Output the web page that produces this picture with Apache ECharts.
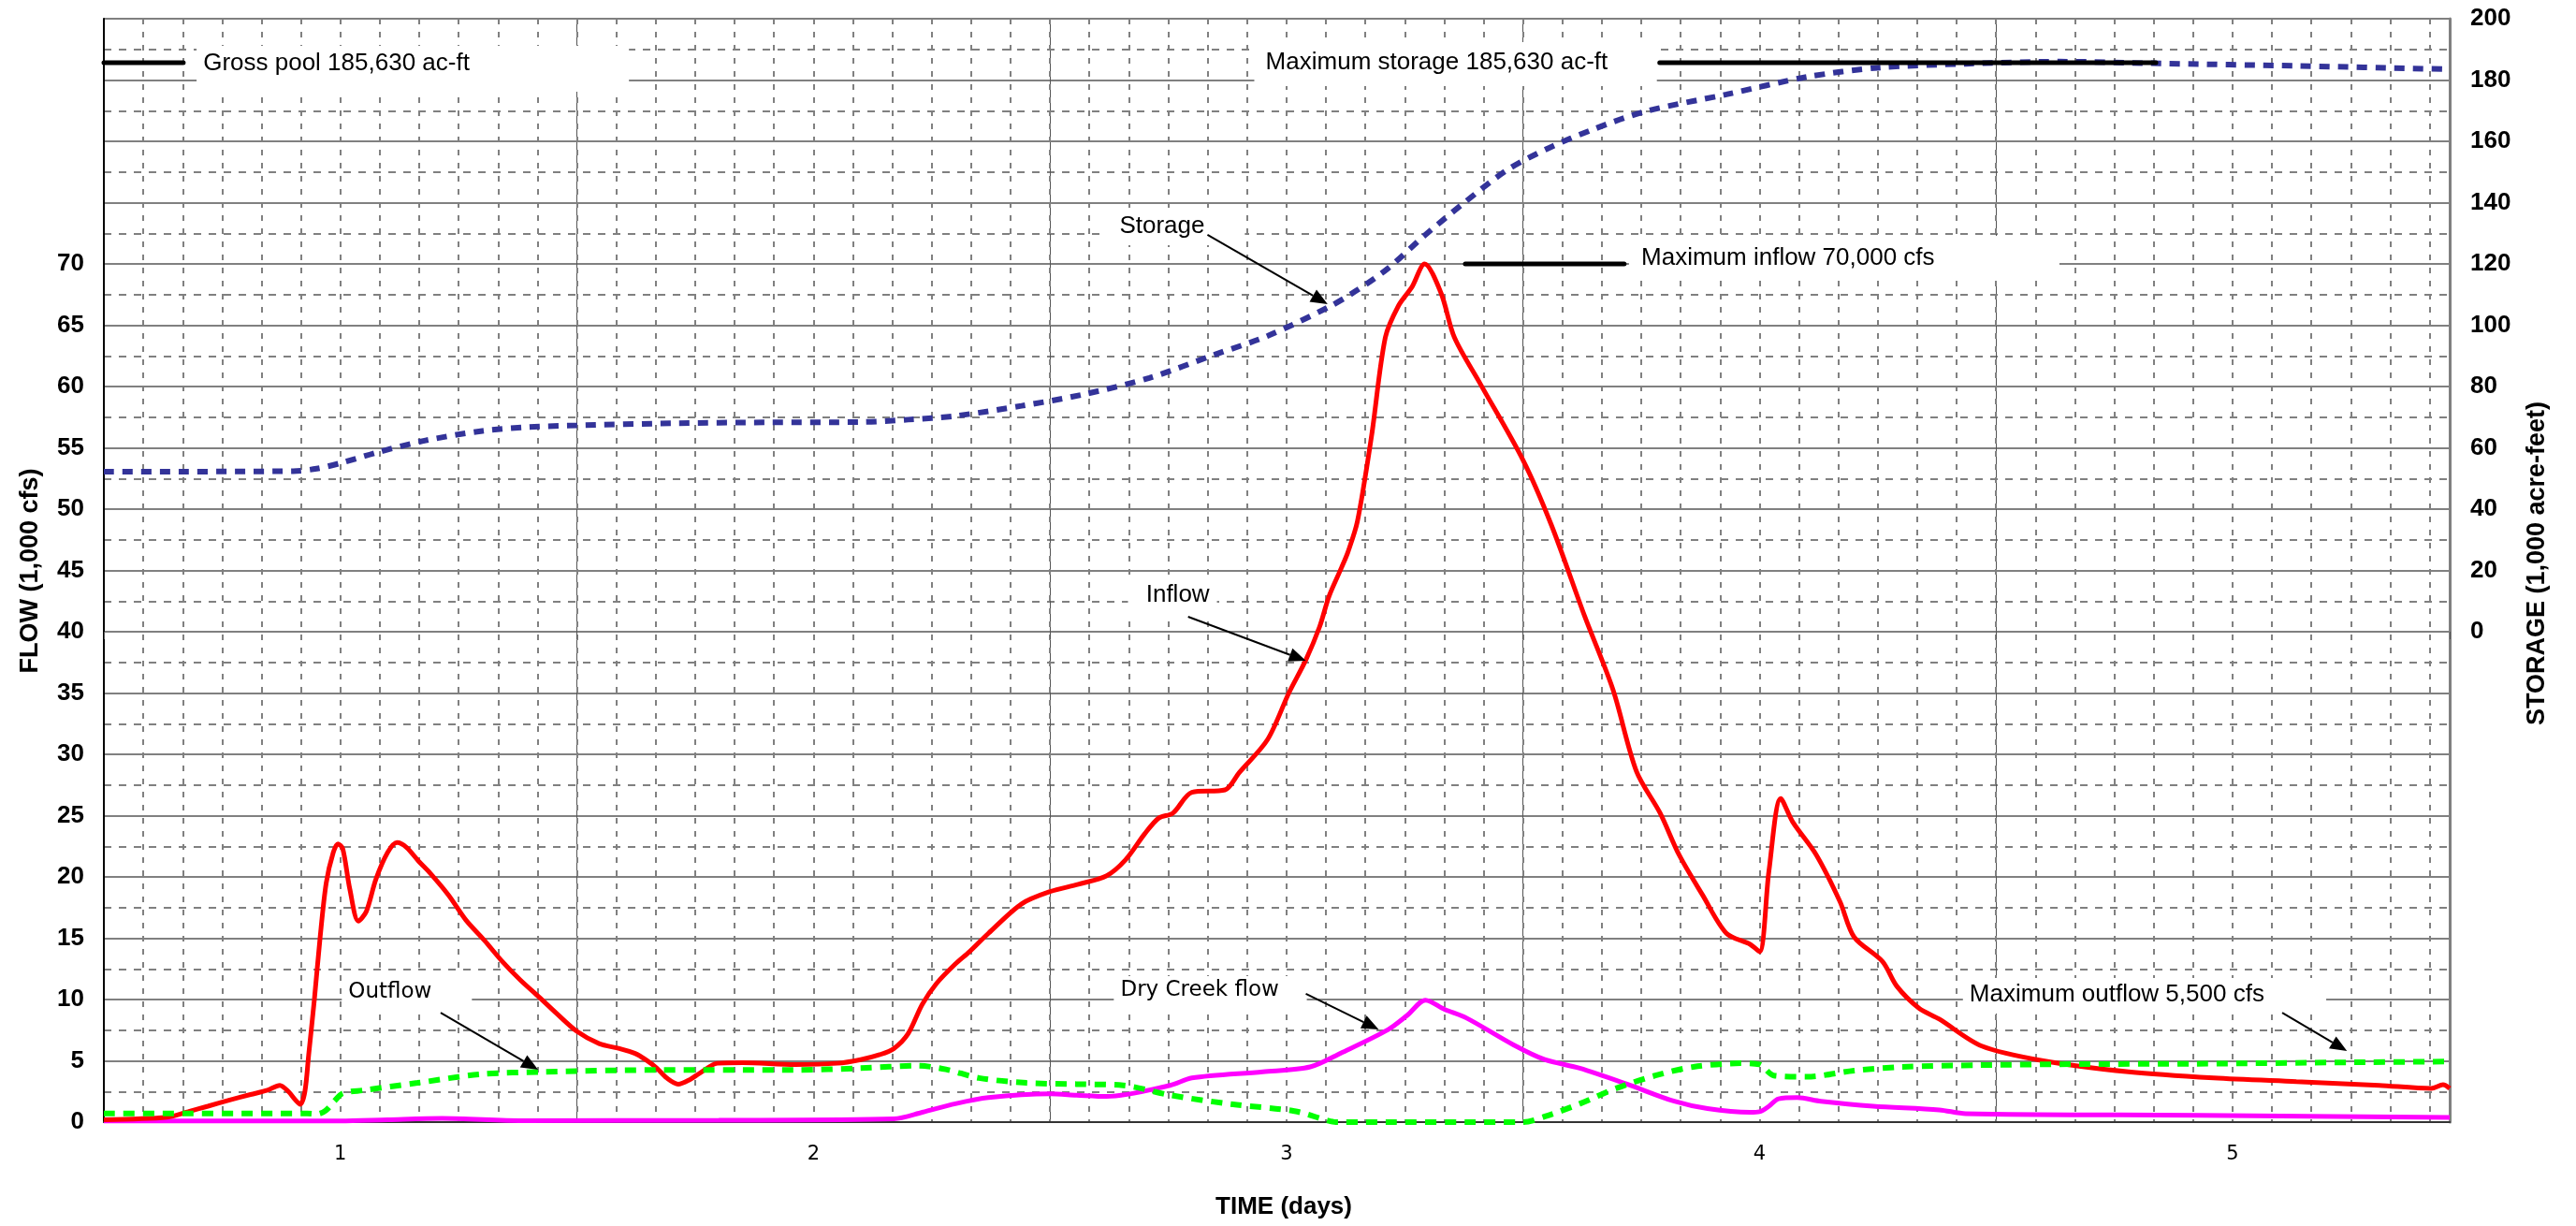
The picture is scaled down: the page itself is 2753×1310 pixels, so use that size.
<!DOCTYPE html>
<html><head><meta charset="utf-8">
<script src="https://cdn.jsdelivr.net/npm/echarts@6/dist/echarts.min.js"></script>
<style>html,body{margin:0;padding:0;background:#fff}#c{width:2753px;height:1310px}</style>
</head><body><div id="c"></div>
<script>
// ---------------- DATA (day, value) ----------------
const xTickLabels = [1, 2, 3, 4, 5];
const leftLabelMax = 70;     // FLOW labels shown up to 70
const rightLabelMin = 0;     // STORAGE labels shown from 0

const inflow = [[0.5,0.2],[0.634,0.4],[0.678,0.85],[0.72,1.3],[0.766,1.8],[0.81,2.25],[0.846,2.6],[0.872,3.0],[0.89,2.5],[0.905,1.8],[0.915,1.45],[0.925,2.5],[0.933,5.5],[0.945,10],[0.957,15],[0.97,19.5],[0.985,22],[0.995,22.7],[1.005,22.3],[1.02,19],[1.038,16.4],[1.055,17.2],[1.075,19.8],[1.1,22],[1.12,22.8],[1.14,22.4],[1.165,21.3],[1.19,20.3],[1.229,18.5],[1.265,16.5],[1.305,14.8],[1.34,13.2],[1.38,11.6],[1.42,10.2],[1.456,8.9],[1.5,7.4],[1.547,6.4],[1.59,6.0],[1.623,5.6],[1.645,5.1],[1.669,4.4],[1.69,3.6],[1.714,3.1],[1.74,3.5],[1.76,4.0],[1.797,4.8],[1.85,4.85],[1.962,4.7],[2.05,4.8],[2.1,5.1],[2.14,5.5],[2.17,6.0],[2.2,7.2],[2.23,9.6],[2.26,11.3],[2.3,12.9],[2.33,13.9],[2.37,15.4],[2.44,17.8],[2.5,18.8],[2.56,19.4],[2.62,20.1],[2.66,21.4],[2.7,23.5],[2.73,24.8],[2.76,25.2],[2.8,26.9],[2.87,27.1],[2.9,28.5],[2.96,31.2],[3.005,35],[3.041,37.7],[3.07,40.4],[3.09,42.9],[3.116,45.2],[3.13,46.5],[3.15,49],[3.18,56],[3.209,64],[3.237,66.6],[3.265,68.1],[3.292,70],[3.327,67.6],[3.355,64],[3.41,60.2],[3.5,54],[3.56,48.7],[3.63,41.3],[3.69,35.3],[3.74,28.6],[3.79,25.2],[3.83,21.8],[3.88,18.5],[3.93,15.4],[3.98,14.5],[4.0,13.9],[4.02,20.5],[4.045,26.4],[4.07,24.5],[4.12,21.8],[4.17,18],[4.2,15.1],[4.26,13.1],[4.29,11.1],[4.337,9.3],[4.38,8.4],[4.47,6.2],[4.6,5.0],[4.78,4.1],[4.96,3.6],[5.135,3.3],[5.31,3.0],[5.42,2.75],[5.445,3.05],[5.459,2.75]];

const outflow = [[0.5,0.7],[0.93,0.7],[0.951,0.65],[0.969,0.94],[0.987,1.7],[1.005,2.35],[1.049,2.6],[1.163,3.2],[1.296,3.9],[1.43,4.1],[1.666,4.25],[1.962,4.25],[2.1,4.4],[2.22,4.6],[2.28,4.3],[2.35,3.6],[2.45,3.2],[2.556,3.1],[2.655,3.0],[2.754,2.2],[2.887,1.45],[3.017,0.9],[3.085,0.15],[3.104,0],[3.5,0],[3.55,0.5],[3.62,1.5],[3.7,2.8],[3.78,3.8],[3.86,4.5],[3.96,4.8],[4.0,4.7],[4.03,3.8],[4.1,3.7],[4.2,4.2],[4.3,4.5],[4.465,4.65],[4.676,4.73],[4.923,4.76],[5.26,4.88],[5.459,4.94]];

const dryCreek = [[0.5,0.1],[1.0,0.1],[1.1,0.2],[1.215,0.3],[1.385,0.12],[1.8,0.15],[2.17,0.27],[2.23,0.8],[2.3,1.5],[2.37,2.0],[2.5,2.3],[2.556,2.2],[2.62,2.1],[2.754,3.0],[2.8,3.6],[2.95,4.1],[3.05,4.5],[3.116,5.65],[3.215,7.55],[3.255,8.7],[3.294,9.95],[3.334,9.2],[3.38,8.5],[3.48,6.3],[3.546,5.1],[3.62,4.4],[3.72,3.1],[3.82,1.7],[3.89,1.1],[3.98,0.8],[4.0,0.85],[4.02,1.3],[4.04,1.9],[4.08,2.0],[4.13,1.7],[4.24,1.3],[4.38,1.0],[4.436,0.69],[4.93,0.56],[5.459,0.38]];

const storage = [[0.5,52.2],[0.9,52.4],[0.95,53.2],[1.0,55],[1.08,58.6],[1.18,62.4],[1.3,65.5],[1.4,66.8],[1.5,67.3],[1.7,68],[1.9,68.3],[2.1,68.4],[2.2,69.2],[2.3,70.4],[2.44,73.7],[2.57,77.4],[2.71,82.8],[2.85,90.5],[2.96,96.5],[3.09,106],[3.15,111.5],[3.215,118.6],[3.29,129],[3.376,140],[3.466,150.6],[3.55,157.5],[3.65,164],[3.76,169.8],[3.93,175.3],[4.1,181],[4.25,184],[4.436,185.3],[4.634,186],[4.848,185.4],[5.137,184.6],[5.459,183.5]];

const grossPoolLine = [[0.5,185.63],[0.668,185.63]];       // storage axis
const maxStorageLine = [[3.789,185.63],[4.838,185.63]];    // storage axis
const maxInflowLine = [[3.378,70],[3.714,70]];             // flow axis

// ---------------- LAYOUT (annotations, in flow-axis data coordinates) ----------------
const ARIAL = '26px "Liberation Sans", Arial, sans-serif';
const DEJAVU = '23px "DejaVu Sans", Verdana, sans-serif';
const notes = [
  {text:'Gross pool 185,630 ac-ft', at:[0.710,86.37], box:[0.696,1.610,87.79,84.05], font:ARIAL},
  {text:'Maximum storage 185,630 ac-ft', at:[2.956,86.45], box:[2.932,3.783,88.09,84.50], font:ARIAL},
  {text:'Storage', at:[2.647,73.05], box:[2.616,2.912,74.58,71.53], font:ARIAL},
  {text:'Maximum inflow 70,000 cfs', at:[3.750,70.46], box:[3.724,4.634,72.29,68.63], font:ARIAL},
  {text:'Inflow', at:[2.703,42.98], box:[2.665,2.853,44.58,41.37], font:ARIAL},
  {text:'Outflow', at:[1.017,10.6], box:[1.003,1.278,12.14,8.85], font:DEJAVU},
  {text:'Dry Creek flow', at:[2.649,10.76], box:[2.635,3.043,11.91,9.08], font:DEJAVU},
  {text:'Maximum outflow 5,500 cfs', at:[4.444,10.38], box:[4.430,5.198,11.76,8.85], font:ARIAL}
];
const arrows = [
  {from:[2.833,72.37], to:[3.087,66.72]},
  {from:[2.792,41.22], to:[3.041,37.63]},
  {from:[1.212,8.93], to:[1.418,4.27]},
  {from:[3.041,10.46], to:[3.195,7.56]},
  {from:[5.105,8.93], to:[5.242,5.80]}
];

const X_MIN = 0.5, X_MAX = 5.459;
const GRID_GRAY = '#808080';

const chart = echarts.init(document.getElementById('c'));

const baseX = {type:'value', min:X_MIN, max:X_MAX, position:'bottom'};
chart.setOption({
  animation:false,
  backgroundColor:'#fff',
  grid:{left:111, right:135, top:20, bottom:111, containLabel:false},
  xAxis:[
    Object.assign({}, baseX, {
      interval:0.5,
      axisLine:{show:true, lineStyle:{color:'#333', width:2}},
      axisTick:{show:false},
      splitLine:{show:false},
      axisLabel:{show:true, margin:24, color:'#000', fontSize:21, fontFamily:'"DejaVu Sans", Verdana, sans-serif',
        showMinLabel:true, showMaxLabel:true, hideOverlap:false,
        formatter:v => xTickLabels.indexOf(Math.round(v*1000)/1000) >= 0 ? String(Math.round(v)) : ''}
    }),
    Object.assign({}, baseX, {
      interval:1,
      axisLine:{show:false},
      axisTick:{show:true, length:8, lineStyle:{color:'#555', width:1}},
      axisLabel:{show:false},
      splitLine:{show:true, lineStyle:{color:'#555', width:1}}
    }),
    Object.assign({}, baseX, {
      interval:1/12,
      axisLine:{show:false},
      axisTick:{show:false},
      axisLabel:{show:false},
      splitLine:{show:true, lineStyle:{color:GRID_GRAY, width:2, type:[6,8]}}
    })
  ],
  yAxis:[
    {type:'value', min:0, max:90, interval:5, position:'left',
      axisLine:{show:true, lineStyle:{color:'#000', width:2}},
      axisTick:{show:false},
      axisLabel:{margin:21, color:'#000', fontSize:26, fontWeight:'bold', fontFamily:'"Liberation Sans", Arial, sans-serif',
        formatter:v => v <= leftLabelMax ? String(v) : ''},
      splitLine:{show:true, lineStyle:{color:GRID_GRAY, width:2}},
      minorTick:{show:false, splitNumber:2},
      minorSplitLine:{show:true, lineStyle:{color:GRID_GRAY, width:2, type:[8,8]}}
    },
    {type:'value', min:-160, max:200, interval:20, position:'right',
      axisLine:{show:true, lineStyle:{color:GRID_GRAY, width:3}},
      axisTick:{show:false},
      axisLabel:{margin:22, color:'#000', fontSize:26, fontWeight:'bold', fontFamily:'"Liberation Sans", Arial, sans-serif',
        formatter:v => v >= rightLabelMin ? String(v) : ''},
      splitLine:{show:false}
    }
  ],
  series:[
    {type:'line', name:'Dry Creek flow', data:dryCreek, yAxisIndex:0, smooth:0.3, showSymbol:false, silent:true,
      lineStyle:{color:'#ff00ff', width:5}, z:3},
    {type:'line', name:'Inflow', data:inflow, yAxisIndex:0, smooth:0.3, showSymbol:false, silent:true,
      lineStyle:{color:'#ff0000', width:5}, z:4},
    {type:'line', name:'Outflow', data:outflow, yAxisIndex:0, smooth:0.3, showSymbol:false, silent:true,
      lineStyle:{color:'#00ff00', width:6, type:[12,9], cap:'butt'}, z:5},
    {type:'line', name:'Storage', data:storage, yAxisIndex:1, smooth:0.3, showSymbol:false, silent:true,
      lineStyle:{color:'#333399', width:6, type:[11,9], cap:'butt'}, z:5},
    {type:'line', name:'Gross pool', data:grossPoolLine, yAxisIndex:1, showSymbol:false, silent:true,
      lineStyle:{color:'#000', width:5, cap:'round'}, z:6},
    {type:'line', name:'Maximum storage', data:maxStorageLine, yAxisIndex:1, showSymbol:false, silent:true,
      lineStyle:{color:'#000', width:5, cap:'round'}, z:6},
    {type:'line', name:'Maximum inflow', data:maxInflowLine, yAxisIndex:0, showSymbol:false, silent:true,
      lineStyle:{color:'#000', width:5, cap:'round'}, z:6}
  ]
});

function px(p){ return chart.convertToPixel({xAxisIndex:0, yAxisIndex:0}, p); }
const g = [];
notes.forEach(n => {
  const a = px([n.box[0], n.box[2]]), b = px([n.box[1], n.box[3]]);
  g.push({type:'rect', z:1, silent:true, shape:{x:a[0], y:a[1], width:b[0]-a[0], height:b[1]-a[1]}, style:{fill:'#fff'}});
  const t = px(n.at);
  g.push({type:'text', z:20, silent:true, x:t[0], y:t[1],
    style:{text:n.text, font:n.font, fill:'#000', textAlign:'left', textVerticalAlign:'middle', align:'left', verticalAlign:'middle'}});
});
arrows.forEach(ar => {
  const s = px(ar.from), e = px(ar.to);
  const dx = e[0]-s[0], dy = e[1]-s[1], L = Math.hypot(dx, dy);
  const ux = dx/L, uy = dy/L, hl = 18, hw = 7.5;
  const bx = e[0]-ux*hl, by = e[1]-uy*hl;
  g.push({type:'line', z:20, silent:true, shape:{x1:s[0], y1:s[1], x2:bx, y2:by}, style:{stroke:'#000', lineWidth:2}});
  g.push({type:'polygon', z:20, silent:true, shape:{points:[[e[0],e[1]],[bx-uy*hw, by+ux*hw],[bx+uy*hw, by-ux*hw]]}, style:{fill:'#000'}});
});
const TITLE = 'bold 27px "Liberation Sans", Arial, sans-serif';
g.push({type:'text', z:20, silent:true, x:33, y:610, rotation:Math.PI/2,
  style:{text:'FLOW (1,000 cfs)', font:TITLE, fill:'#000', textAlign:'center', textVerticalAlign:'middle', align:'center', verticalAlign:'middle'}});
g.push({type:'text', z:20, silent:true, x:2712, y:602, rotation:Math.PI/2,
  style:{text:'STORAGE (1,000 acre-feet)', font:TITLE, fill:'#000', textAlign:'center', textVerticalAlign:'middle', align:'center', verticalAlign:'middle'}});
g.push({type:'text', z:20, silent:true, x:1372, y:1290,
  style:{text:'TIME (days)', font:'bold 26px "Liberation Sans", Arial, sans-serif', fill:'#000', textAlign:'center', textVerticalAlign:'middle', align:'center', verticalAlign:'middle'}});
chart.setOption({graphic:g});
</script>
</body></html>
